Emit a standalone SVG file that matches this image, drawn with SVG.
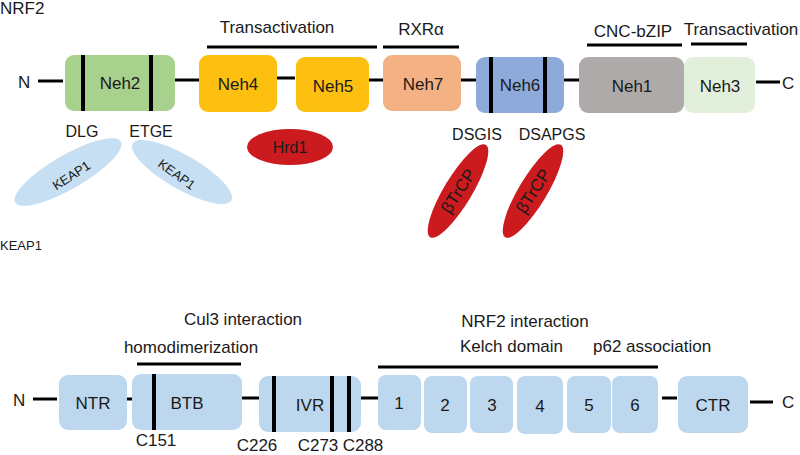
<svg xmlns="http://www.w3.org/2000/svg" width="800" height="455" viewBox="0 0 800 455">
<style>
text{font-family:"Liberation Sans",Arial,sans-serif;fill:#1a1a1a;font-size:17px}
.c{text-anchor:middle}
.ln{stroke:#000;stroke-width:3;fill:none}
.bar{fill:#000}
.kb{fill:#bdd7ee}
.red{fill:#cc1b1f}
.keap{fill:#c6dff2}
</style>
<rect width="800" height="455" fill="#fff"/>
<text x="0" y="14">NRF2</text>
<text x="0" y="250" style="font-size:13px">KEAP1</text>
<g id="annotations-top">
<text class="c" x="277" y="33">Transactivation</text>
<text class="c" x="421" y="35">RXRα</text>
<text class="c" x="633" y="37">CNC-bZIP</text>
<text class="c" x="741" y="35">Transactivation</text>
<line class="ln" x1="207" y1="47" x2="377" y2="47"/>
<line class="ln" x1="383" y1="47" x2="459" y2="47"/>
<line class="ln" x1="587" y1="45" x2="682" y2="45"/>
<line class="ln" x1="691" y1="44" x2="747" y2="44"/>
</g>
<g id="connectors">
<line class="ln" x1="38" y1="81" x2="63" y2="81"/>
<line class="ln" x1="175" y1="80" x2="200" y2="80"/>
<line class="ln" x1="277" y1="78" x2="295" y2="78"/>
<line class="ln" x1="369" y1="80" x2="385" y2="80"/>
<line class="ln" x1="461" y1="80" x2="477" y2="80"/>
<line class="ln" x1="564" y1="80" x2="580" y2="80"/>
<line class="ln" x1="756" y1="82" x2="780" y2="82"/>
<line class="ln" x1="33" y1="399" x2="57" y2="399"/>
<line class="ln" x1="127" y1="399" x2="132" y2="399"/>
<line class="ln" x1="242" y1="398" x2="259" y2="398"/>
<line class="ln" x1="361" y1="398" x2="378" y2="398"/>
<line class="ln" x1="662" y1="398" x2="677" y2="398"/>
<line class="ln" x1="750" y1="402" x2="773" y2="402"/>
</g>
<text x="18" y="88">N</text>
<text x="782" y="89">C</text>
<g id="neh2">
<rect x="65" y="55" width="110" height="56" rx="9" fill="#a9d18e"/>
<rect class="bar" x="81" y="55" width="4" height="56"/>
<rect class="bar" x="149" y="55" width="4" height="56"/>
<text class="c" x="120" y="89">Neh2</text>
</g>
<g id="neh4">
<rect x="199" y="55" width="78" height="57" rx="9" fill="#fdc010"/>
<text class="c" x="238" y="90">Neh4</text>
</g>
<g id="neh5">
<rect x="296" y="57" width="73" height="55" rx="9" fill="#fdc010"/>
<text class="c" x="333" y="92">Neh5</text>
</g>
<g id="neh7">
<rect x="383" y="55" width="78" height="56" rx="9" fill="#f4b183"/>
<text class="c" x="423" y="90">Neh7</text>
</g>
<g id="neh6">
<rect x="476" y="57" width="88" height="56" rx="9" fill="#8eaadb"/>
<rect class="bar" x="489" y="57" width="4" height="56"/>
<rect class="bar" x="543" y="57" width="4" height="56"/>
<text class="c" x="520" y="91">Neh6</text>
</g>
<g id="neh1">
<rect x="579" y="57" width="105" height="56" rx="9" fill="#aeaaaa"/>
<text class="c" x="632" y="92">Neh1</text>
</g>
<g id="neh3">
<rect x="684" y="57" width="71" height="56" rx="9" fill="#e2efda"/>
<text class="c" x="720" y="92">Neh3</text>
</g>
<text class="c" x="82" y="137" style="font-size:16px">DLG</text>
<text class="c" x="151" y="137" style="font-size:16px">ETGE</text>
<text class="c" x="477" y="140" style="font-size:16px">DSGIS</text>
<text class="c" x="552" y="140" style="font-size:16px">DSAPGS</text>
<g id="keap1-left">
<ellipse class="keap" cx="68" cy="172" rx="61" ry="17" transform="rotate(-30 68 172)"/>
<text class="c" x="71" y="180" style="font-size:13px" transform="rotate(-33 71 175)">KEAP1</text>
</g>
<g id="keap1-right">
<ellipse class="keap" cx="182" cy="172" rx="57" ry="17" transform="rotate(30 182 172)"/>
<text class="c" x="177" y="179" style="font-size:13px" transform="rotate(36 177 174)">KEAP1</text>
</g>
<g id="hrd1">
<ellipse class="red" cx="290" cy="147" rx="43" ry="18"/>
<text class="c" x="290" y="153" style="font-size:16px">Hrd1</text>
</g>
<g id="btrcp1">
<ellipse class="red" cx="458" cy="191" rx="54" ry="14" transform="rotate(-59 458 191)"/>
<text class="c" x="458" y="197" transform="rotate(-57 458 191)">βTrCP</text>
</g>
<g id="btrcp2">
<ellipse class="red" cx="533" cy="191" rx="54" ry="14" transform="rotate(-59 533 191)"/>
<text class="c" x="533" y="197" transform="rotate(-57 533 191)">βTrCP</text>
</g>
<g id="annotations-bottom">
<text class="c" x="243" y="325">Cul3 interaction</text>
<text class="c" x="191" y="353">homodimerization</text>
<line class="ln" x1="137" y1="364" x2="241" y2="364"/>
<text class="c" x="525" y="327">NRF2 interaction</text>
<text x="460" y="352">Kelch domain</text>
<text x="593" y="352">p62 association</text>
<line class="ln" x1="378" y1="367" x2="658" y2="367"/>
</g>
<text x="13" y="406">N</text>
<text x="782" y="408">C</text>
<g id="ntr">
<rect class="kb" x="59" y="375" width="68" height="55" rx="9"/>
<text class="c" x="93" y="409">NTR</text>
</g>
<g id="btb">
<rect class="kb" x="132" y="374" width="110" height="56" rx="9"/>
<rect class="bar" x="152" y="374" width="4" height="56"/>
<text class="c" x="187" y="409">BTB</text>
</g>
<g id="ivr">
<rect class="kb" x="259" y="376" width="102" height="56" rx="9"/>
<rect class="bar" x="272" y="376" width="4" height="56"/>
<rect class="bar" x="330" y="376" width="4" height="56"/>
<rect class="bar" x="347" y="376" width="4" height="56"/>
<text class="c" x="310" y="411">IVR</text>
</g>
<g id="kelch1">
<rect class="kb" x="378" y="375" width="43" height="55" rx="8"/>
<text class="c" x="399" y="409">1</text>
</g>
<g id="kelch2">
<rect class="kb" x="424" y="376" width="43" height="57" rx="8"/>
<text class="c" x="445" y="411">2</text>
</g>
<g id="kelch3">
<rect class="kb" x="470" y="376" width="43" height="57" rx="8"/>
<text class="c" x="492" y="411">3</text>
</g>
<g id="kelch4">
<rect class="kb" x="517" y="376" width="46" height="58" rx="8"/>
<text class="c" x="540" y="412">4</text>
</g>
<g id="kelch5">
<rect class="kb" x="567" y="376" width="44" height="57" rx="8"/>
<text class="c" x="589" y="411">5</text>
</g>
<g id="kelch6">
<rect class="kb" x="612" y="376" width="46" height="57" rx="8"/>
<text class="c" x="635" y="411">6</text>
</g>
<g id="ctr">
<rect class="kb" x="678" y="376" width="70" height="57" rx="9"/>
<text class="c" x="713" y="411">CTR</text>
</g>
<text class="c" x="156" y="446">C151</text>
<text class="c" x="257" y="451">C226</text>
<text class="c" x="318" y="451">C273</text>
<text class="c" x="363" y="451">C288</text>
</svg>
